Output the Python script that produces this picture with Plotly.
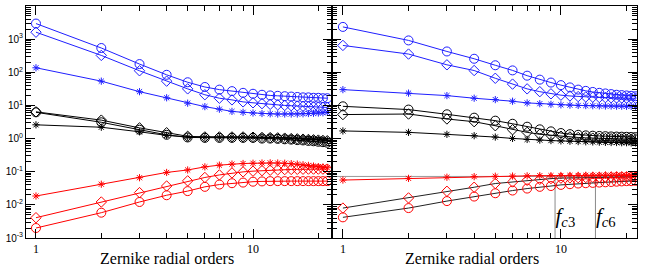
import numpy as np
import plotly.graph_objects as go
from plotly.subplots import make_subplots

orders = list(range(1, 23))

# Left panel
L_blue_circ = [2950, 540, 177, 84, 50, 36, 30, 27, 24, 22.5, 21, 20, 19.5, 19, 18.5, 18, 17.5, 17.5, 17, 17, 16.5, 16.5]
L_blue_diam = [1620, 323, 111, 54, 31.6, 21, 16.5, 14.7, 12.8, 12, 11.3, 10.8, 10.4, 10, 9.8, 9.6, 9.4, 9.2, 9.0, 8.9, 8.8, 8.7]
L_blue_star = [137, 54, 26, 17, 11.7, 9.2, 7.7, 6.6, 6.2, 5.9, 5.7, 5.6, 5.5, 5.5, 5.5, 5.5, 5.6, 5.7, 5.8, 5.9, 6.0, 6.2]
L_black_circ = [6.2, 3.1, 1.85, 1.3, 1.08, 1.05, 1.05, 1.05, 1.05, 1.05, 1.0, 1.0, 0.98, 0.95, 0.93, 0.9, 0.88, 0.85, 0.83, 0.8, 0.78, 0.75]
L_black_diam = [6.4, 3.6, 2.1, 1.5, 1.17, 1.12, 1.12, 1.12, 1.12, 1.1, 1.08, 1.07, 1.05, 1.03, 1.0, 0.98, 0.96, 0.94, 0.92, 0.9, 0.88, 0.86]
L_black_star = [2.6, 2.2, 1.6, 1.25, 1.12, 1.1, 1.1, 1.12, 1.12, 1.12, 1.1, 1.1, 1.08, 1.06, 1.04, 1.02, 1.0, 0.98, 0.96, 0.94, 0.92, 0.9]
L_red_star = [0.0185, 0.042, 0.066, 0.095, 0.113, 0.14, 0.158, 0.17, 0.177, 0.18, 0.183, 0.185, 0.183, 0.18, 0.175, 0.17, 0.162, 0.155, 0.148, 0.142, 0.137, 0.132]
L_red_diam = [0.0041, 0.0122, 0.0234, 0.037, 0.053, 0.067, 0.080, 0.092, 0.099, 0.104, 0.108, 0.111, 0.114, 0.116, 0.117, 0.118, 0.119, 0.12, 0.12, 0.12, 0.12, 0.12]
L_red_circ = [0.0020, 0.0058, 0.0122, 0.0195, 0.026, 0.035, 0.041, 0.045, 0.047, 0.050, 0.051, 0.052, 0.052, 0.052, 0.052, 0.052, 0.052, 0.052, 0.052, 0.052, 0.052, 0.052]

# Right panel
R_blue_circ = [2340, 915, 425, 256, 163, 114, 79, 60, 49, 41, 35, 30, 27.5, 25.5, 24, 23, 22, 21, 20.5, 20, 19.5, 19]
R_blue_diam = [646, 355, 168, 113, 66, 44, 31.6, 26, 22.4, 20.4, 19.3, 18.5, 18, 17.7, 17.4, 17.2, 17, 16.8, 16.7, 16.6, 16.5, 16.4]
R_blue_star = [30, 23.5, 19.8, 16.5, 15, 13.4, 11.9, 11.3, 10.8, 10.4, 10.2, 10.0, 9.9, 9.8, 9.7, 9.6, 9.6, 9.5, 9.5, 9.4, 9.4, 9.4]
R_black_circ = [9.4, 7.5, 5.4, 4.27, 3.47, 2.8, 2.28, 1.9, 1.65, 1.47, 1.36, 1.3, 1.25, 1.22, 1.2, 1.18, 1.16, 1.15, 1.14, 1.13, 1.12, 1.11]
R_black_diam = [5.3, 5.5, 3.9, 3.23, 2.44, 1.85, 1.54, 1.35, 1.25, 1.18, 1.12, 1.08, 1.05, 1.03, 1.01, 1.0, 0.99, 0.98, 0.97, 0.96, 0.95, 0.95]
R_black_star = [1.7, 1.54, 1.34, 1.22, 1.11, 1.01, 0.94, 0.9, 0.87, 0.85, 0.83, 0.81, 0.8, 0.79, 0.78, 0.77, 0.76, 0.76, 0.75, 0.75, 0.74, 0.74]
R_red_star = [0.056, 0.063, 0.068, 0.071, 0.073, 0.074, 0.075, 0.076, 0.076, 0.077, 0.077, 0.077, 0.078, 0.078, 0.078, 0.078, 0.078, 0.078, 0.078, 0.078, 0.078, 0.078]
R_red_diam = [0.0080, 0.0162, 0.0257, 0.034, 0.044, 0.049, 0.055, 0.059, 0.062, 0.064, 0.065, 0.066, 0.067, 0.068, 0.068, 0.069, 0.069, 0.07, 0.07, 0.07, 0.07, 0.07]
R_red_circ = [0.0042, 0.008, 0.013, 0.0178, 0.0224, 0.027, 0.031, 0.035, 0.037, 0.040, 0.042, 0.044, 0.045, 0.046, 0.047, 0.048, 0.049, 0.05, 0.051, 0.052, 0.052, 0.053]

# cutoff annotations (right panel)
cutoff_x = [9.4, 14.4]
cutoff_labels = ["<i>f</i><sub><i>c</i>3</sub>", "<i>f</i><sub><i>c</i>6</sub>"]
cutoff_top = 0.072
y_bottom = 1e-3
label_y = 0.0042

ytick_vals = [1e-3, 1e-2, 1e-1, 1e0, 1e1, 1e2, 1e3, 1e4]
ytick_text = ["10<sup>-3</sup>", "10<sup>-2</sup>", "10<sup>-1</sup>", "10<sup>0</sup>",
              "10<sup>1</sup>", "10<sup>2</sup>", "10<sup>3</sup>", "10<sup>4</sup>"]
xtick_vals = [1, 10]
xtick_text = ["1", "10"]

BLUE = "#1f1fff"
RED = "#ff0000"
BLACK = "#000000"

fig = make_subplots(rows=1, cols=2, horizontal_spacing=0)

def add(col, y, color, symbol, line_color=None, size=8):
    marker = dict(symbol=symbol, size=size, color=color, line=dict(color=color, width=1))
    fig.add_trace(go.Scatter(x=orders, y=y, mode="lines+markers",
                             line=dict(color=line_color or color, width=1),
                             marker=marker, showlegend=False), row=1, col=col)

# Left
add(1, L_blue_circ, BLUE, "circle-open", size=9)
add(1, L_blue_diam, BLUE, "diamond-open", size=8)
add(1, L_blue_star, BLUE, "asterisk-open", size=6)
add(1, L_black_circ, BLACK, "circle-open", size=9)
add(1, L_black_diam, BLACK, "diamond-open", size=8)
add(1, L_black_star, BLACK, "asterisk-open", size=6)
add(1, L_red_star, RED, "asterisk-open", size=6)
add(1, L_red_diam, RED, "diamond-open", size=8)
add(1, L_red_circ, RED, "circle-open", size=9)

# Right: cutoff lines first (behind)
fig.add_trace(go.Scatter(x=[orders[0] * 0.8, orders[-1] * 1.2], y=[cutoff_top, cutoff_top], mode="lines",
                         line=dict(color="#9a9a9a", width=1), showlegend=False, hoverinfo="skip"), row=1, col=2)
for cx in cutoff_x:
    fig.add_trace(go.Scatter(x=[cx, cx], y=[cutoff_top, y_bottom], mode="lines",
                             line=dict(color="#8a8a8a", width=1), showlegend=False, hoverinfo="skip"), row=1, col=2)

add(2, R_blue_circ, BLUE, "circle-open", size=9)
add(2, R_blue_diam, BLUE, "diamond-open", size=8)
add(2, R_blue_star, BLUE, "asterisk-open", size=6)
add(2, R_black_circ, BLACK, "circle-open", size=9)
add(2, R_black_diam, BLACK, "diamond-open", size=8)
add(2, R_black_star, BLACK, "asterisk-open", size=6)
add(2, R_red_star, RED, "asterisk-open", size=6)
add(2, R_red_diam, RED, "diamond-open", line_color="#222222", size=8)
add(2, R_red_circ, RED, "circle-open", line_color="#222222", size=9)

fig.add_trace(go.Scatter(x=[cx * 1.005 for cx in cutoff_x], y=[label_y, label_y], mode="text",
                         text=cutoff_labels, textposition="middle right",
                         textfont=dict(family="Liberation Serif", size=21, color="black"),
                         showlegend=False, hoverinfo="skip"), row=1, col=2)

split = 306 / 611
common_x = dict(type="log", showgrid=False, zeroline=False, showline=True, linecolor="black",
                linewidth=1, mirror="allticks", ticks="inside", ticklen=9, tickcolor="black",
                tickvals=xtick_vals, ticktext=xtick_text, automargin=False,
                tickfont=dict(family="Liberation Serif", size=12, color="black"),
                minor=dict(ticks="inside", ticklen=5, tickcolor="black",
                           tickvals=[2, 3, 4, 5, 6, 7, 8, 9, 20], showgrid=False))
common_y = dict(type="log", showgrid=False, zeroline=False, showline=True, linecolor="black",
                linewidth=1, mirror="allticks", ticks="inside", ticklen=9, tickcolor="black",
                tickvals=ytick_vals, ticktext=ytick_text, range=[-3, 4], automargin=False,
                tickfont=dict(family="Liberation Sans", size=10, color="black"),
                minor=dict(ticks="inside", ticklen=5, tickcolor="black", dtick="D1", showgrid=False))

fig.update_layout(
    template="none",
    width=654, height=271,
    margin=dict(l=26, r=17, t=6, b=33, autoexpand=False),
    paper_bgcolor="white", plot_bgcolor="white",
    xaxis=dict(common_x, domain=[0, split], range=[-0.046, 1.364]),
    xaxis2=dict(common_x, domain=[split, 1], range=[-0.05, 1.349]),
    yaxis=dict(common_y),
    yaxis2=dict(common_y, showticklabels=False),
    font=dict(family="Liberation Serif", color="black"),
)

fig.add_annotation(text="Zernike radial orders", xref="paper", yref="paper",
                   x=(167 - 26) / 611, y=-(258 - 238) / 232, showarrow=False,
                   font=dict(family="Liberation Serif", size=16, color="black"),
                   xanchor="center", yanchor="middle")
fig.add_annotation(text="Zernike radial orders", xref="paper", yref="paper",
                   x=(472 - 26) / 611, y=-(258 - 238) / 232, showarrow=False,
                   font=dict(family="Liberation Serif", size=16, color="black"),
                   xanchor="center", yanchor="middle")

fig.write_html("out.html", config={"displayModeBar": False},
               post_script="document.body.style.margin='0';document.body.style.padding='0';document.body.style.overflow='hidden';")
